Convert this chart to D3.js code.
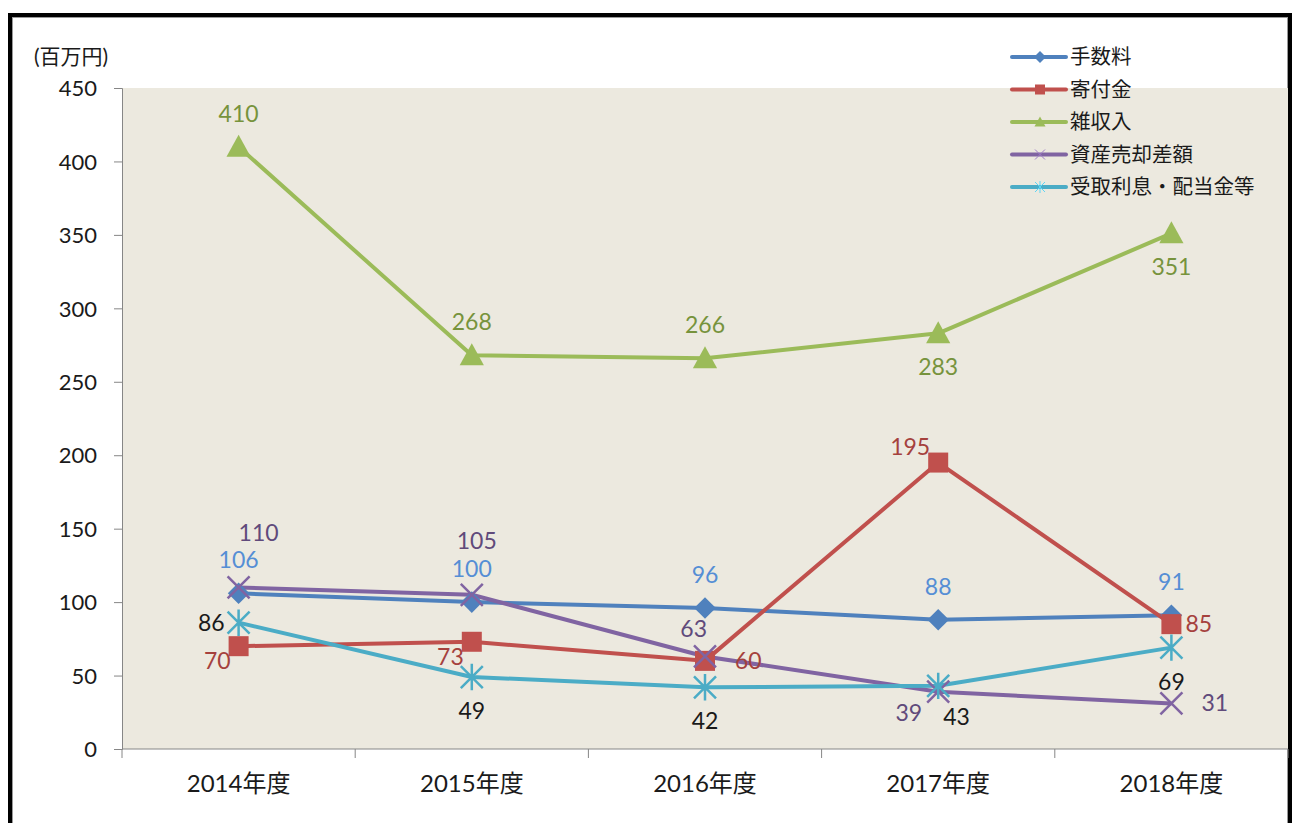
<!DOCTYPE html>
<html lang="ja">
<head>
    <meta charset="utf-8">
    <title>収入推移</title>
    <script src="https://cdn.jsdelivr.net/npm/d3@7/dist/d3.min.js"></script>
    <style type="text/css">
        body {
            margin: 0;
            background: #fff;
        }
        text {
            font-family: Lato, "Noto Sans CJK JP", sans-serif;
        }
        .axis path, .axis line {
            stroke: #868686;
        }
        .axis text {
            fill: #1a1a1a;
        }
    </style>
</head>
<body>
    <div id="chart"></div>
    <script>
        // data
        var years = ["2014年度", "2015年度", "2016年度", "2017年度", "2018年度"];
        var seriesNames = ["手数料", "寄付金", "雑収入", "資産売却差額", "受取利息・配当金等"];
        var fees = [106, 100, 96, 88, 91];
        var donations = [70, 73, 60, 195, 85];
        var misc = [410, 268, 266, 283, 351];
        var assetSales = [110, 105, 63, 39, 31];
        var interest = [86, 49, 42, 43, 69];
        var yTicks = [0, 50, 100, 150, 200, 250, 300, 350, 400, 450];

        // style per series
        var colors = ["#4F81BD", "#C0504D", "#9BBB59", "#8064A2", "#4BACC6"];
        var labelColors = ["#558ED5", "#A5413D", "#77933C", "#604A7B", "#1a1a1a"];
        var shapes = ["diamond", "square", "triangle", "x", "star"];
        // label placement per point: t=top, b=bottom, l=left, r=right
        var labelPlace = [
            ["t", "t", "t", "t", "t"],
            ["lb", "lb", "rr", "lt", "r"],
            ["t", "t", "t", "b", "b"],
            ["tr", "tt", "lt2", "lb2", "rr"],
            ["l", "b", "b", "rb", "b"]
        ];
        var allSeries = [fees, donations, misc, assetSales, interest];

        var W = 1298, H = 823;
        var plot = { left: 122, top: 88, right: 1288, bottom: 749 };

        var svg = d3.select("#chart").append("svg")
            .attr("width", W)
            .attr("height", H);

        // outer frame
        svg.append("rect")
            .attr("x", 10).attr("y", 15)
            .attr("width", 1280).attr("height", 830)
            .attr("fill", "#fff")
            .attr("stroke", "#000")
            .attr("stroke-width", 4);
        svg.append("rect")
            .attr("x", 12.5).attr("y", 17.5)
            .attr("width", 1275).attr("height", 830)
            .attr("fill", "none")
            .attr("stroke", "#999")
            .attr("stroke-width", 1);

        // plot background
        svg.append("rect")
            .attr("x", plot.left).attr("y", plot.top)
            .attr("width", plot.right - plot.left)
            .attr("height", plot.bottom - plot.top)
            .attr("fill", "#ECE9DF");

        var x = d3.scaleBand()
            .domain(years)
            .range([plot.left, plot.right]);

        var y = d3.scaleLinear()
            .domain([0, 450])
            .range([plot.bottom, plot.top]);

        // y axis
        var yAxis = svg.append("g")
            .attr("class", "axis")
            .attr("transform", "translate(" + plot.left + ",0)")
            .call(d3.axisLeft(y).tickValues(yTicks).tickSize(8).tickPadding(17));
        yAxis.selectAll("text").attr("dy", "0.35em").attr("font-size", 22);

        // x axis
        var xAxis = svg.append("g")
            .attr("class", "axis")
            .attr("transform", "translate(0," + plot.bottom + ")")
            .call(d3.axisBottom(x).tickSize(0).tickPadding(26));
        xAxis.selectAll("text").attr("font-size", 24);
        xAxis.select(".domain").attr("d", "M" + plot.left + ",0H" + plot.right);
        // ticks between categories
        xAxis.selectAll(".sep")
            .data(d3.range(years.length + 1))
            .enter()
            .append("line")
            .attr("class", "sep")
            .attr("x1", function (i) { return plot.left + i * x.bandwidth(); })
            .attr("x2", function (i) { return plot.left + i * x.bandwidth(); })
            .attr("y1", 0).attr("y2", 9)
            .attr("stroke", "#868686");

        svg.append("text")
            .attr("x", 34).attr("y", 64)
            .attr("font-size", 21)
            .attr("fill", "#1a1a1a")
            .text("(百万円)");

        function cx(i) { return x(years[i]) + x.bandwidth() / 2; }

        function drawMarker(g, shape, color, size) {
            var s = size;
            if (shape === "diamond") {
                g.append("path").attr("d", "M0," + (-s * 0.6) + "L" + (s * 0.6) + ",0L0," + (s * 0.6) + "L" + (-s * 0.6) + ",0Z").attr("fill", color);
            } else if (shape === "square") {
                g.append("rect").attr("x", -s / 2).attr("y", -s / 2).attr("width", s).attr("height", s).attr("fill", color);
            } else if (shape === "triangle") {
                g.append("path").attr("d", "M0," + (-s * 0.55) + "L" + (s * 0.55) + "," + (s * 0.45) + "L" + (-s * 0.55) + "," + (s * 0.45) + "Z").attr("fill", color);
            } else if (shape === "x") {
                var h = s / 2;
                g.append("path").attr("d", "M" + (-h) + "," + (-h) + "L" + h + "," + h + "M" + (-h) + "," + h + "L" + h + "," + (-h))
                    .attr("stroke", color).attr("stroke-width", 2.5).attr("fill", "none");
            } else if (shape === "star") {
                var h2 = s / 2;
                g.append("path").attr("d", "M" + (-h2) + "," + (-h2) + "L" + h2 + "," + h2 + "M" + (-h2) + "," + h2 + "L" + h2 + "," + (-h2) + "M0," + (-h2 * 1.2) + "L0," + (h2 * 1.2))
                    .attr("stroke", color).attr("stroke-width", 2.5).attr("fill", "none");
            }
        }

        var line = d3.line()
            .x(function (d, i) { return cx(i); })
            .y(function (d) { return y(d); });

        var markerSize = [18, 20, 22, 22, 22];

        allSeries.forEach(function (vals, s) {
            svg.append("path")
                .datum(vals)
                .attr("d", line)
                .attr("fill", "none")
                .attr("stroke", colors[s])
                .attr("stroke-width", 4)
                .attr("stroke-linejoin", "round");
        });

        allSeries.forEach(function (vals, s) {
            vals.forEach(function (v, i) {
                var g = svg.append("g").attr("transform", "translate(" + cx(i) + "," + y(v) + ")");
                drawMarker(g, shapes[s], colors[s], markerSize[s]);
            });
        });

        // data labels
        var offsets = {
            t: [0, -25, "middle"], tt: [5, -46, "middle"], tr: [20, -46, "middle"],
            b: [0, 42, "middle"], l: [-14, 8, "end"], r: [14, 8, "start"], rr: [30, 8, "start"],
            lb: [-8, 23, "end"], lb2: [-16, 29, "end"], lt: [-8, -8, "end"], lt2: [2, -19, "end"],
            rb: [5, 39, "start"]
        };
        allSeries.forEach(function (vals, s) {
            vals.forEach(function (v, i) {
                var o = offsets[labelPlace[s][i]];
                svg.append("text")
                    .attr("x", cx(i) + o[0])
                    .attr("y", y(v) + o[1])
                    .attr("text-anchor", o[2])
                    .attr("font-size", 23)
                    .attr("fill", labelColors[s])
                    .text(v);
            });
        });

        // legend
        var legend = svg.selectAll(".legend")
            .data(seriesNames)
            .enter()
            .append("g")
            .attr("class", "legend")
            .attr("transform", function (d, i) { return "translate(1012," + (57 + i * 32.5) + ")"; });
        legend.append("line")
            .attr("x1", 0).attr("x2", 54)
            .attr("stroke", function (d, i) { return colors[i]; })
            .attr("stroke-width", 4)
            .attr("stroke-linecap", "round");
        legend.each(function (d, i) {
            var g = d3.select(this).append("g").attr("transform", "translate(28,0)");
            if (shapes[i] === "x" || shapes[i] === "star") {
                drawMarker(g, shapes[i], d3.color(colors[i]).brighter(0.6), 10);
                g.selectAll("path").attr("stroke-width", 1);
            } else {
                drawMarker(g, shapes[i], colors[i], 10);
            }
        });
        legend.append("text")
            .attr("x", 58).attr("y", 7)
            .attr("font-size", 20.5)
            .attr("fill", "#1a1a1a")
            .text(function (d) { return d; });
    </script>
</body>
</html>
